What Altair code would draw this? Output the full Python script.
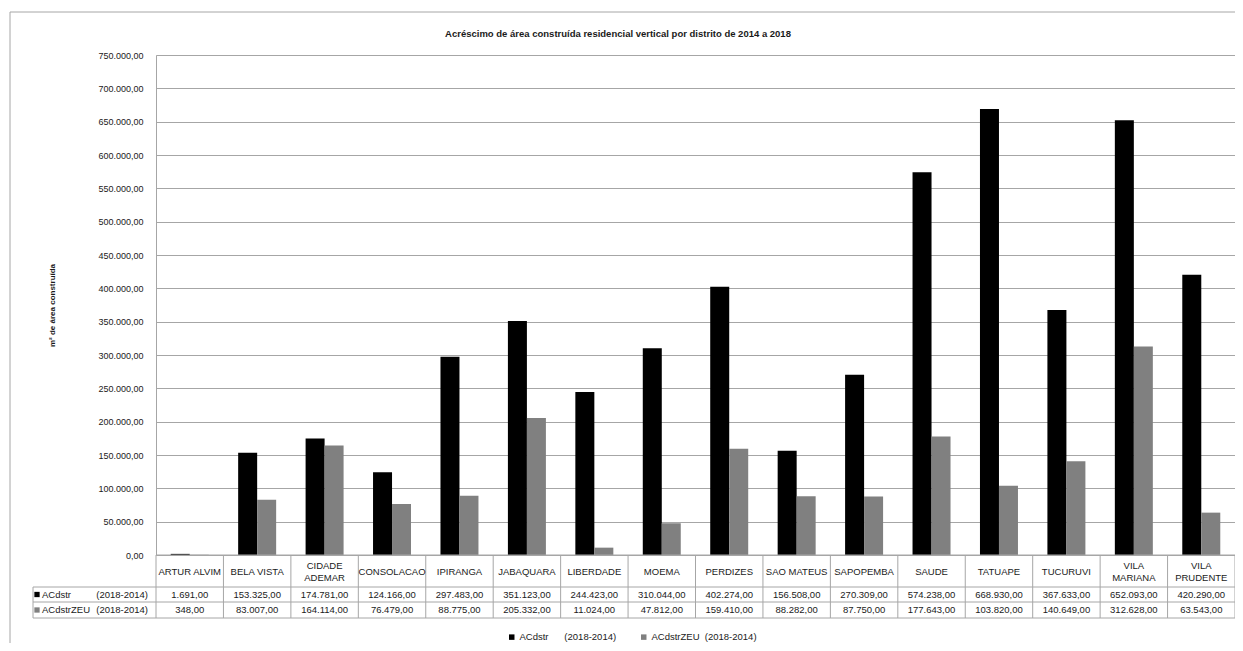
import altair as alt
import pandas as pd

# ---------------- data ----------------
categories = ["ARTUR ALVIM", "BELA VISTA", "CIDADE ADEMAR", "CONSOLACAO", "IPIRANGA",
              "JABAQUARA", "LIBERDADE", "MOEMA", "PERDIZES", "SAO MATEUS", "SAPOPEMBA",
              "SAUDE", "TATUAPE", "TUCURUVI", "VILA MARIANA", "VILA PRUDENTE"]
header_labels = ["ARTUR ALVIM", "BELA VISTA", "CIDADE\nADEMAR", "CONSOLACAO", "IPIRANGA",
                 "JABAQUARA", "LIBERDADE", "MOEMA", "PERDIZES", "SAO MATEUS", "SAPOPEMBA",
                 "SAUDE", "TATUAPE", "TUCURUVI", "VILA\nMARIANA", "VILA\nPRUDENTE"]
acdstr = [1691, 153325, 174781, 124166, 297483, 351123, 244423, 310044, 402274,
          156508, 270309, 574238, 668930, 367633, 652093, 420290]
acdstr_zeu = [348, 83007, 164114, 76479, 88775, 205332, 11024, 47812, 159410,
              88282, 87750, 177643, 103820, 140649, 312628, 63543]
series_names = ["ACdstr\u00a0\u00a0\u00a0\u00a0\u00a0\u00a0(2018-2014)",
                "ACdstrZEU\u00a0\u00a0(2018-2014)"]
row_names = ["ACdstr", "ACdstrZEU"]
row_period = "(2018-2014)"
y_ticks = list(range(0, 750001, 50000))
title_text = "Acréscimo de área construída residencial vertical por distrito de 2014 a 2018"
y_title = "m² de área construída"

# ---------------- layout ----------------
W, H = 1079, 500
FONT = "Liberation Sans"
GRID = "#a6a6a6"
TXT = "#1a1a1a"

rows = []
for i, c in enumerate(categories):
    rows.append(dict(cat=c, label=header_labels[i], series=series_names[0], row=0, value=acdstr[i]))
    rows.append(dict(cat=c, label=header_labels[i], series=series_names[1], row=1, value=acdstr_zeu[i]))
df = pd.DataFrame(rows)
cat_df = pd.DataFrame({"cat": categories, "label": header_labels})
series_df = pd.DataFrame({"series": series_names, "name": row_names, "row": [0, 1]})
one = pd.DataFrame({"k": [0]})

xscale = alt.Scale(domain=categories, paddingInner=0, paddingOuter=0)
X = alt.X("cat:N", scale=xscale, axis=None)
color_scale = alt.Scale(domain=series_names, range=["#000000", "#808080"])

legend = alt.Legend(orient="none", legendX=351, legendY=577, direction="horizontal",
                    title=None, symbolType="square", symbolSize=30, symbolStrokeWidth=0,
                    labelFont=FONT, labelFontSize=9.5, labelColor=TXT, columnPadding=22,
                    labelOffset=3)

# outer chart border
border = alt.Chart(one).mark_rect(fillOpacity=0, stroke=GRID, strokeWidth=1).encode(
    x=alt.value(-146), x2=alt.value(W + 100), y=alt.value(-43), y2=alt.value(H + 200))

bars = alt.Chart(df).mark_bar().encode(
    x=X,
    xOffset=alt.XOffset("series:N", scale=alt.Scale(domain=series_names, paddingInner=0,
                                                    paddingOuter=0.775)),
    y=alt.Y("value:Q", scale=alt.Scale(domain=[0, 750000], nice=False),
            axis=alt.Axis(values=y_ticks, format=",.2f", labelFont=FONT, labelFontSize=9,
                          labelColor=TXT, labelPadding=13, ticks=False, domainColor=GRID,
                          gridColor=GRID, title=y_title, titleFont=FONT, titleFontSize=8,
                          titleFontWeight="bold", titleColor=TXT, titleX=-104, titleY=250,
                          titleAngle=270, titleAlign="center", titleBaseline="middle")),
    color=alt.Color("series:N", scale=color_scale, legend=legend),
)

title = alt.Chart(one).mark_text(text=title_text, font=FONT, fontSize=9.5, fontWeight="bold",
                                 color=TXT, align="center", baseline="middle").encode(
    x=alt.value(462), y=alt.value(-21))

# table grid
vlines = alt.Chart(cat_df).mark_rule(color=GRID, strokeWidth=1).encode(
    x=alt.X("cat:N", scale=xscale, axis=None, bandPosition=0),
    y=alt.value(H), y2=alt.value(H + 63))
vlast = alt.Chart(one).mark_rule(color=GRID).encode(
    x=alt.value(W), y=alt.value(H), y2=alt.value(H + 63))
vleft = alt.Chart(one).mark_rule(color=GRID).encode(
    x=alt.value(-123), y=alt.value(H + 32), y2=alt.value(H + 63))
hlines = [alt.Chart(one).mark_rule(color=GRID).encode(
    x=alt.value(-123), x2=alt.value(W), y=alt.value(H + yv)) for yv in (32, 47, 63)]
hzero = alt.Chart(one).mark_rule(color=GRID).encode(
    x=alt.value(0), x2=alt.value(W), y=alt.value(H))

header1 = alt.Chart(cat_df).transform_filter("indexof(datum.label, '\\n') < 0").mark_text(
    font=FONT, fontSize=9.5, color=TXT, align="center", baseline="middle").encode(
    x=X, y=alt.value(H + 17), text="label:N")
header2 = alt.Chart(cat_df).transform_filter("indexof(datum.label, '\\n') >= 0").mark_text(
    font=FONT, fontSize=9.5, color=TXT, lineBreak="\n", align="center", baseline="middle",
    lineHeight=12).encode(
    x=X, y=alt.value(H + 11), text="label:N")

row_layers = []
for i, yv in enumerate((H + 39.5, H + 55)):
    vals = alt.Chart(df).transform_filter(alt.datum.row == i).mark_text(
        font=FONT, fontSize=9.5, color=TXT, align="center", baseline="middle").encode(
        x=X, y=alt.value(yv), text=alt.Text("value:Q", format=",.2f"))
    sq = alt.Chart(series_df).transform_filter(alt.datum.row == i).mark_point(
        shape="square", filled=True, size=28, opacity=1).encode(
        x=alt.value(-119), y=alt.value(yv),
        color=alt.Color("series:N", scale=color_scale, legend=legend))
    nm = alt.Chart(series_df).transform_filter(alt.datum.row == i).mark_text(
        font=FONT, fontSize=9.5, color=TXT, align="left", baseline="middle").encode(
        x=alt.value(-114), y=alt.value(yv), text="name:N")
    per = alt.Chart(one).mark_text(text=row_period, font=FONT, fontSize=9.5, color=TXT,
                                   align="right", baseline="middle").encode(
        x=alt.value(-8), y=alt.value(yv))
    row_layers += [vals, sq, nm, per]

chart = alt.layer(border, bars, title, vlines, vlast, vleft, *hlines, hzero,
                  header1, header2, *row_layers).properties(
    width=W, height=H,
    autosize=alt.AutoSizeParams(type="none"),
    padding={"left": 148, "top": 47, "right": 0, "bottom": 88},
).configure_view(strokeWidth=0).configure(
    locale={"number": {"decimal": ",", "thousands": ".", "grouping": [3], "currency": ["R$", ""]}}
)

chart.save("out.html", embed_options={"renderer": "svg", "actions": False})
